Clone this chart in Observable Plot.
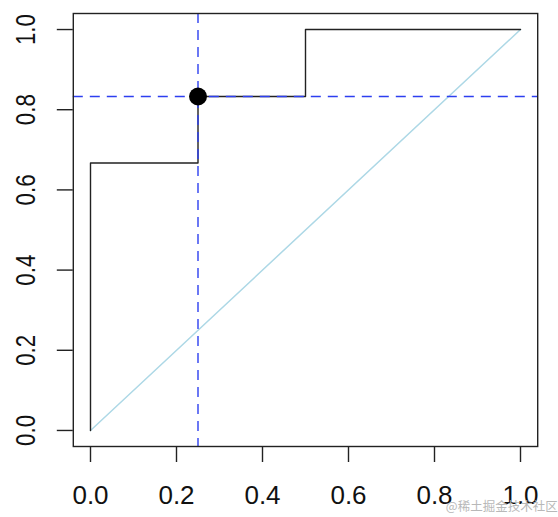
<!DOCTYPE html>
<html>
<head>
<meta charset="utf-8">
<script src="https://cdn.jsdelivr.net/npm/d3@7"></script>
<script src="https://cdn.jsdelivr.net/npm/@observablehq/plot@0.6"></script>
<style>
  html, body { margin: 0; padding: 0; background: #fff; }
  #chart svg { display: block; }
</style>
</head>
<body>
<div id="chart"></div>
<script>
// ROC curve points (false positive rate, true positive rate)
const fpr = [0, 0, 0.25, 0.25, 0.5, 0.5, 1];
const tpr = [0, 0.667, 0.667, 0.833, 0.833, 1, 1];
// best threshold point
const bestX = [0.25];
const bestY = [0.833];
// tick values
const xTicks = [0, 0.2, 0.4, 0.6, 0.8, 1.0];
const yTicks = [0, 0.2, 0.4, 0.6, 0.8, 1.0];
const watermark = "@稀土掘金技术社区";

const roc = fpr.map((x, i) => ({x, y: tpr[i]}));
const diag = [{x: 0, y: 0}, {x: 1, y: 1}];
const best = bestX.map((x, i) => ({x, y: bestY[i]}));

const W = 558, H = 517;
const chart = Plot.plot({
  width: W,
  height: H,
  marginLeft: 72.8,
  marginRight: 20.8,
  marginTop: 13,
  marginBottom: 71,
  style: {fontFamily: "Liberation Sans, Arial, sans-serif", background: "#fff"},
  x: {domain: [-0.04, 1.04], axis: null, label: null},
  y: {domain: [-0.04, 1.04], axis: null, label: null},
  marks: [
    Plot.line(diag, {x: "x", y: "y", stroke: "#add8e6", strokeWidth: 1.5}),
    Plot.line(roc, {x: "x", y: "y", stroke: "#222", strokeWidth: 1.4}),
    Plot.ruleX(bestX, {stroke: "#2d3ff0", strokeWidth: 1.4, strokeDasharray: "10,7"}),
    Plot.ruleY(bestY, {stroke: "#2d3ff0", strokeWidth: 1.4, strokeDasharray: "10,7"}),
    Plot.dot(best, {x: "x", y: "y", r: 9, fill: "#000", stroke: "none"}),
    Plot.frame({stroke: "#222", strokeWidth: 1.4}),
    Plot.axisX(xTicks, {anchor: "bottom", tickSize: 16, tickFormat: () => "", label: null, stroke: "#222", strokeWidth: 1.4}),
    Plot.axisY(yTicks, {anchor: "left", tickSize: 16, tickFormat: () => "", label: null, stroke: "#222", strokeWidth: 1.4}),
    Plot.text(xTicks, {x: d => d, text: d => d.toFixed(1), frameAnchor: "bottom", dy: 49, textAnchor: "middle", lineAnchor: "middle", fontSize: 26, fill: "#111"}),
    Plot.text(yTicks, {y: d => d, text: d => d.toFixed(1), frameAnchor: "left", dx: -47, rotate: -90, textAnchor: "middle", lineAnchor: "middle", fontSize: 27, fill: "#111"}),
    Plot.text([watermark], {text: d => d, frameAnchor: "bottom-right", dx: 20, dy: 64, textAnchor: "end", lineAnchor: "bottom", fontSize: 12.5, fill: "#b8b8b8", fontFamily: "Noto Sans CJK SC"})
  ]
});
document.getElementById("chart").appendChild(chart);
// condense the rotated y labels along their length, as in the reference
d3.select(chart).selectAll("text")
  .filter(function() { return /rotate\(-90\)/.test(this.getAttribute("transform") || ""); })
  .attr("transform", function() { return this.getAttribute("transform") + " scale(0.83,1)"; });
</script>
</body>
</html>
